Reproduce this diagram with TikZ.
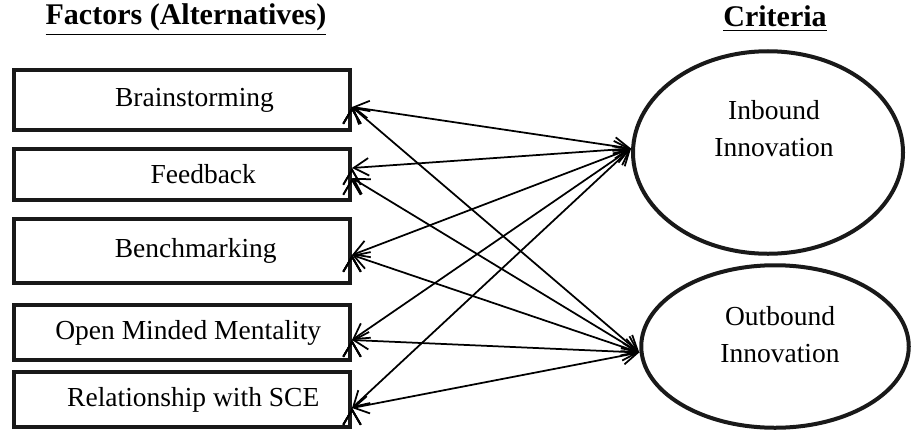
\documentclass[tikz,border=0pt]{standalone}
\usepackage{fontspec}
\setmainfont{Liberation Serif}
\usetikzlibrary{shapes.geometric,arrows.meta}
\begin{document}
\begin{tikzpicture}[x=0.4pt,y=-0.4pt]
	\tikzstyle{factor}=[rectangle,draw=black!90,line width=1.6pt,minimum width=134.4pt,inner sep=0pt,font=\fontsize{11}{14.8}\selectfont]
	\tikzstyle{criterion}=[ellipse,draw=black!90,line width=1.6pt,inner sep=0pt]
	\tikzstyle{caption}=[font=\fontsize{11}{14.8}\selectfont,align=center,inner sep=0pt]
	\tikzstyle{heading}=[font=\fontsize{12}{14}\selectfont\bfseries]
	\tikzstyle{edge}=[draw,line width=0.7pt,{Straight Barb[length=6pt,width=7pt]}-{Straight Barb[length=6pt,width=7pt]}]
	\useasboundingbox (0,0) rectangle (912,433);
	\begin{scope}
		% headings
		\node [heading] (hfac) at (186,20) {\underline{Factors (Alternatives)}};
		\node [heading] (hcrit) at (775,19) {\underline{Criteria}};
		% factors
		\node [factor,minimum height=24pt] (f1) at (182,100) {\hspace*{10pt}Brainstorming};
		\node [factor,minimum height=20.4pt] (f2) at (182,174.5) {\hspace*{17pt}Feedback};
		\node [factor,minimum height=25.6pt] (f3) at (182,251) {\hspace*{11pt}Benchmarking};
		\node [factor,minimum height=22pt] (f4) at (182,332.5) {\hspace*{5pt}Open Minded Mentality};
		\node [factor,minimum height=22pt] (f5) at (182,399.5) {\hspace*{9pt}Relationship with SCE};
		% criteria
		\node [criterion,minimum width=108pt,minimum height=81pt] (inb) at (768,152.5) {};
		\node [criterion,minimum width=107pt,minimum height=65pt] (outb) at (775,346.5) {};
		\node [caption] (inbtxt) at (774,129) {Inbound\\Innovation};
		\node [caption] (outbtxt) at (780,335) {Outbound\\Innovation};
		% links
		\path[edge] ([yshift=-2.8pt]f1.east) edge ([yshift=1.6pt]inb.west);
		\path[edge] ([yshift=2.6pt]f2.east) edge ([yshift=1.6pt]inb.west);
		\path[edge] ([yshift=-1.6pt]f3.east) edge ([yshift=1.6pt]inb.west);
		\path[edge] ([yshift=-3pt]f4.east) edge ([yshift=1.6pt]inb.west);
		\path[edge] ([yshift=-3.4pt]f5.east) edge ([yshift=1.6pt]inb.west);
		\path[edge] ([yshift=-2.8pt]f1.east) edge ([yshift=-2.4pt]outb.west);
		\path[edge] ([yshift=-1.4pt]f2.east) edge ([yshift=-2.4pt]outb.west);
		\path[edge] ([yshift=-1.6pt]f3.east) edge ([yshift=-2.4pt]outb.west);
		\path[edge] ([yshift=-3pt]f4.east) edge ([yshift=-2.4pt]outb.west);
		\path[edge] ([yshift=-3.4pt]f5.east) edge ([yshift=-2.4pt]outb.west);
	\end{scope}
\end{tikzpicture}
\end{document}
